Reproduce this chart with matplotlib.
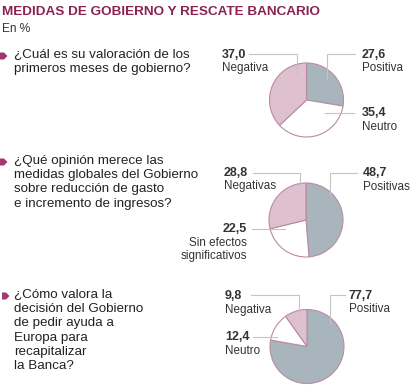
import matplotlib
matplotlib.use("Agg")
import matplotlib.pyplot as plt
from matplotlib.patches import Polygon

plt.rcParams['font.family'] = ['Liberation Sans', 'DejaVu Sans']

# data
q1_labels = ['Positiva', 'Neutro', 'Negativa']
q1_values = [27.6, 35.4, 37.0]
q2_labels = ['Positivas', 'Sin efectos\nsignificativos', 'Negativas']
q2_values = [48.7, 22.5, 28.8]
q3_labels = ['Positiva', 'Neutro', 'Negativa']
q3_values = [77.7, 12.4, 9.8]

questions = [
    ['¿Cuál es su valoración de los', 'primeros meses de gobierno?'],
    ['¿Qué opinión merece las', 'medidas globales del Gobierno',
     'sobre reducción de gasto', 'e incremento de ingresos?'],
    ['¿Cómo valora la', 'decisión del Gobierno', 'de pedir ayuda a',
     'Europa para', 'recapitalizar', 'la Banca?'],
]

W, H = 414, 390
GRAY = '#a9b5bc'
PINK = '#dfc0ce'
EDGE = '#b88ca2'
LEAD = '#c4c4c4'
TITLE = '#8a2350'
BULLET = '#a3366c'

fig = plt.figure(figsize=(W / 100, H / 100), dpi=100)
ax = fig.add_axes([0, 0, 1, 1])

Y = lambda y: H - y  # pixel rows -> data y


def fmt(v):
    return f'{v:.1f}'.replace('.', ',')


def draw_pie(vals, cx, cy):
    ax.pie(vals, colors=[GRAY, 'white', PINK], startangle=90, counterclock=False,
           center=(cx, Y(cy)), radius=37,
           wedgeprops=dict(edgecolor=EDGE, linewidth=0.8))


def label(x, y, val, text, ha='left'):
    ax.text(x, Y(y), fmt(val), ha=ha, va='center', fontsize=9, fontweight='bold', color='#333333')
    for i, line in enumerate(text.split('\n')):
        ax.text(x, Y(y + 13.5 + 13 * i), line, ha=ha, va='center', fontsize=8.4, color='#333333')


def lead(pts):
    xs = [p[0] for p in pts]
    ys = [Y(p[1]) for p in pts]
    ax.plot(xs, ys, color=LEAD, lw=0.8, zorder=5)


def bullet(y, x0=0):
    ax.add_patch(Polygon([(x0, Y(y - 3.5)), (x0 + 4, Y(y - 3.5)), (x0 + 7.5, Y(y)),
                          (x0 + 4, Y(y + 3.5)), (x0, Y(y + 3.5))],
                         closed=True, color=BULLET, lw=0))


# title
ax.text(2, Y(12), 'MEDIDAS DE GOBIERNO Y RESCATE BANCARIO', fontsize=9.7,
        fontweight='bold', color=TITLE, va='center')
ax.text(2, Y(28.5), 'En %', fontsize=8.6, color='#333333', va='center')

# questions
q_starts = [55, 161, 295]
for lines, y0 in zip(questions, q_starts):
    bullet(y0 + 1, 0 if y0 < 200 else 2)
    for i, line in enumerate(lines):
        ax.text(14, Y(y0 + 14.2 * i), line, fontsize=9.6, color='#222222', va='center')

# pie 1
draw_pie(q1_values, 306.5, 100)
lead([(249, 53.5), (297, 53.5), (297, 75)])
lead([(355, 53.5), (327, 53.5), (327, 78)])
lead([(325, 112.5), (354, 112.5)])
label(222, 54.5, q1_values[2], q1_labels[2])
label(362, 54.5, q1_values[0], q1_labels[0])
label(362, 113, q1_values[1], q1_labels[1])

# pie 2
draw_pie(q2_values, 306, 220)
lead([(253, 172.5), (300, 172.5), (300, 185)])
lead([(357, 172.5), (330, 172.5), (330, 195)])
lead([(252, 229), (285, 229)])
label(224, 173, q2_values[2], q2_labels[2])
label(363, 173, q2_values[0], q2_labels[0])
label(247, 229, q2_values[1], q2_labels[1], ha='right')

# pie 3
draw_pie(q3_values, 307, 346.5)
lead([(251, 295), (299, 295), (299, 315)])
lead([(345, 295), (330, 295), (330, 323)])
lead([(253, 337), (277, 337)])
label(225, 296, q3_values[2], q3_labels[2])
label(349, 296, q3_values[0], q3_labels[0])
label(225, 337, q3_values[1], q3_labels[1])

ax.set_xlim(0, W)
ax.set_ylim(0, H)
ax.set_aspect('auto')
ax.axis('off')

fig.savefig('out.png', dpi=100)
